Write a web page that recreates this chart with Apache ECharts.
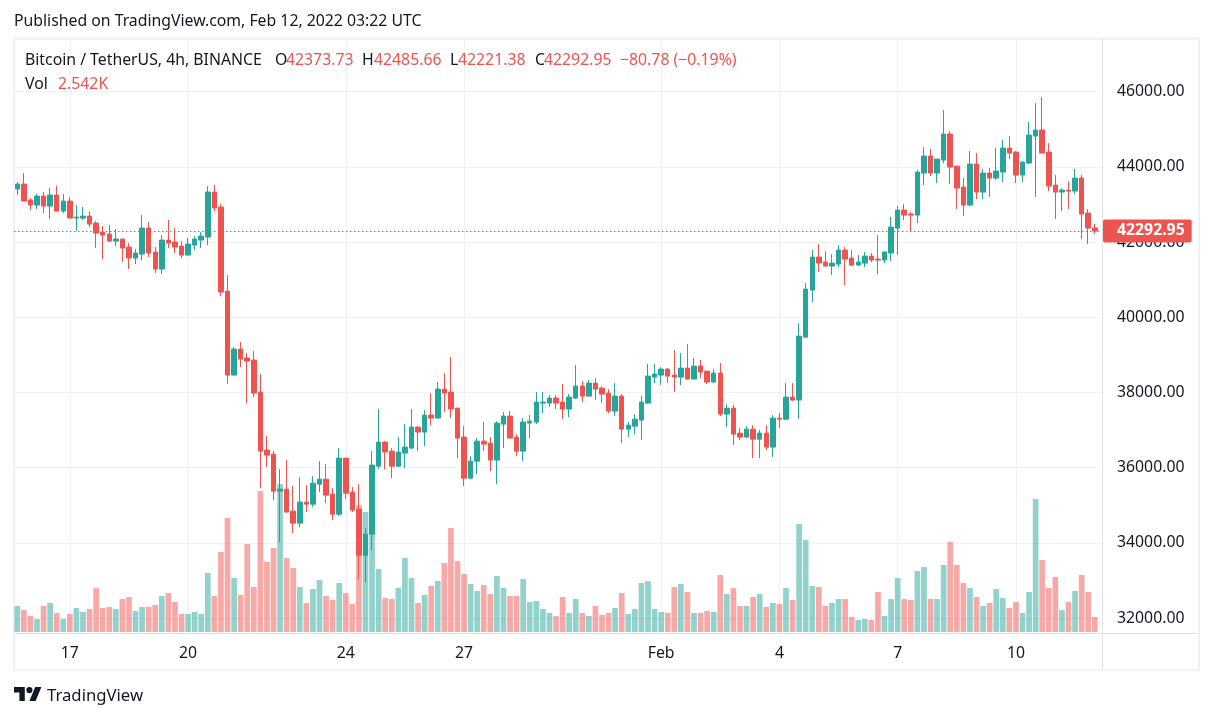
<!DOCTYPE html>
<html><head><meta charset="utf-8">
<style>html,body{margin:0;padding:0;background:#fff}#c{width:1213px;height:718px}</style>
<script src="https://cdn.jsdelivr.net/npm/echarts@6/dist/echarts.min.js"></script>
</head><body><div id="c"></div>
<script>
const opens=[43408,43541,43115,42982,43221,42955,43248,42822,43088,42636,
42636,42689,42503,42264,42211,42024,42078,41865,41572,41678,
42370,41732,41280,42051,41998,41891,41652,41918,42051,42131,
43328,42929,40694,38460,39152,38912,38859,38008,36465,36358,
35374,35427,34842,34523,35082,35028,35560,35693,35294,34762,
36252,35348,34895,33672,34230,36039,36678,36438,36039,36385,
36518,37077,36944,37396,37316,38088,38008,37582,36811,35720,
36172,36704,36651,36199,37156,37369,36811,36438,37183,37210,
37715,37715,37848,37742,37556,37848,38167,37901,38247,38114,
37981,37502,37901,37023,37103,37263,37715,38407,38460,38620,
38460,38407,38646,38354,38699,38566,38274,38513,37423,37582,
36917,36811,37023,36757,36917,36545,37316,37289,37875,37795,
39470,40721,41599,41466,41359,41412,41785,41572,41386,41439,
41625,41545,41519,41705,42370,42849,42743,42716,43833,44285,
43833,44179,44871,44019,43461,42982,44073,43328,43833,43700,
43860,44498,44392,43780,44099,44817,44977,44392,43514,43328,
43381,43354,43700,42769,42373.73];
const highs=[43594,43833,43168,43275,43328,43434,43487,43275,43195,42982,
42929,42822,42556,42423,42450,42344,42078,41971,41811,42716,
42530,41865,42184,42583,42370,42024,42104,42157,42264,43487,
43514,43009,41120,39205,39338,39045,39098,38487,36837,36438,
35959,36199,35507,35747,35534,35773,36172,36092,35454,36518,
36252,35480,35560,34390,36438,37556,36704,36518,36811,37157,
37556,37103,37529,37981,38274,38513,38939,37582,37103,36305,
36784,37210,36811,37236,37476,37502,36890,37316,37396,38008,
38008,37928,37928,38221,37955,38726,38300,38327,38380,38167,
38088,38247,37955,37210,37423,37901,38753,38753,38673,38646,
39125,39045,39285,38912,38859,38566,38620,38779,37689,37662,
37050,37103,37130,37000,37130,37396,37449,38247,38247,39843,
40907,41785,41944,41758,41678,41918,41865,41785,41652,41732,
41705,42184,41758,42663,42955,43008,42796,43913,44525,44472,
44205,45509,44950,44019,43700,44418,44365,43940,43966,44498,
44711,44817,44418,44152,45190,45695,45855,44631,43780,43434,
43620,43940,43780,42875,42485.66];
const lows=[43248,43088,42849,42876,42769,42610,42822,42769,42636,42299,
42583,42397,41838,41545,41998,41891,41466,41280,41412,41519,
41599,41173,41146,41838,41705,41572,41652,41785,41838,41918,
42822,40561,38221,38460,38673,37715,37875,35454,36013,35135,
34018,34816,34257,34417,34816,34949,35348,35055,34603,34709,
35161,34816,33033,32950,33805,35959,35959,35720,36013,35986,
36491,36438,36571,37130,37316,37476,37316,36252,35507,35693,
35827,36438,35906,35560,36518,36784,36305,36172,36784,37156,
37449,37609,37556,37289,37343,37822,37742,37901,37795,37715,
37449,37369,36651,36811,36890,36731,37689,38247,38194,38247,
38008,38194,38354,38354,38380,38221,38247,37369,37077,36598,
36731,36784,36252,36252,36465,36279,37050,37263,37768,37289,
39470,40402,41200,41359,41120,41333,40854,41359,41359,41333,
41466,41146,41439,41492,41652,42583,42264,42503,43514,43753,
43567,44099,43540,42875,42689,42955,43141,43141,43195,43647,
43594,44205,43567,43594,44073,43195,44365,43354,42609,42822,
42875,43274,42077,41944,42221.38];
const closes=[43541,43088,42982,43221,42955,43248,42822,43088,42636,42663,
42689,42477,42237,42184,42024,42078,41838,41572,41705,42370,
41705,41280,42051,41971,41865,41652,41945,42078,42157,43328,
42902,40668,38460,39152,38886,38832,37981,36438,36332,35374,
35427,34816,34523,35082,35028,35587,35693,35268,34762,36252,
35321,34869,33672,34230,36066,36678,36412,36039,36412,36545,
37077,36944,37396,37316,38088,37981,37556,36784,35720,36172,
36704,36625,36199,37183,37369,36784,36438,37210,37236,37742,
37742,37848,37715,37556,37875,38167,37901,38247,38088,37955,
37502,37901,37023,37130,37289,37742,38433,38487,38620,38433,
38407,38646,38354,38699,38540,38274,38513,37423,37582,36891,
36811,37023,36757,36917,36545,37316,37289,37875,37795,39497,
40747,41599,41439,41359,41439,41785,41545,41386,41466,41625,
41519,41519,41732,42397,42849,42716,42716,43860,44285,43833,
44205,44871,43993,43434,42982,44073,43328,43833,43700,43886,
44498,44365,43780,44126,44844,44977,44365,43487,43328,43381,
43354,43700,42742,42370,42292.95];
const volumesK=[4.41,3.73,2.71,2.20,4.41,4.92,3.22,2.20,3.05,4.07,
3.39,3.90,7.46,4.07,4.24,3.90,5.59,5.93,3.56,4.24,
4.24,4.58,6.10,6.61,5.09,3.05,3.05,3.39,3.05,10.00,
6.10,13.56,19.32,9.15,6.27,14.92,7.63,23.90,11.87,14.24,
25.09,12.54,10.85,7.63,4.92,7.29,8.81,6.10,5.42,8.31,
6.61,4.75,21.53,20.34,19.83,10.68,5.76,5.59,7.46,12.54,
9.15,4.92,6.27,7.80,8.64,11.70,17.63,12.03,9.83,8.14,
6.95,7.97,6.44,9.49,7.46,6.10,6.10,8.98,5.09,5.25,
3.90,3.22,2.71,5.93,3.22,5.59,3.22,2.71,4.41,2.88,
3.22,4.07,6.61,3.05,3.90,8.31,8.64,3.90,3.39,3.22,
7.63,8.14,6.78,3.22,3.22,3.56,3.39,9.66,6.44,7.46,
4.41,4.41,5.93,6.44,4.24,4.92,4.75,7.46,5.42,18.31,
15.59,7.80,7.63,4.41,4.92,5.59,5.59,2.54,2.03,2.20,
2.03,6.78,2.71,5.59,9.15,5.59,5.42,10.34,11.02,5.59,
5.59,11.36,15.26,11.36,8.31,7.46,5.93,4.41,4.92,7.29,
5.76,4.07,5.09,3.22,6.78,22.54,12.20,7.46,9.32,3.73,
5.09,6.95,9.66,6.78,2.542];
const timeTickIndexes=[8,26,50,68,98,116,134,152];
const timeTickLabels=['17','20','24','27','Feb','4','7','10'];
const priceTicks=[32000,34000,36000,38000,40000,42000,44000,46000];
const lastPrice=42292.95;

const UP='#26a69a',DOWN='#ef5350',TXT='#131722',GRID='#f0f1f6',SEP='#e1e3e8';
const FONT='"Noto Sans"';
const candleData=opens.map((o,i)=>[i,o,closes[i],lows[i],highs[i]]);
const volData=volumesK.map((v,i)=>({value:[i,v],itemStyle:{color:closes[i]>=opens[i]?'rgba(38,166,154,0.5)':'rgba(239,83,80,0.5)'}}));
const txt=(x,y,text,fill,extra)=>({type:'text',x,y:y-7.5,silent:true,z:10,style:Object.assign({text,fill,font:'15.8px '+FONT},extra||{})});
const line=(x1,y1,x2,y2,stroke,w)=>({type:'line',silent:true,z:1,shape:{x1,y1,x2,y2},style:{stroke,lineWidth:w||1}});

const chart=echarts.init(document.getElementById('c'),null,{renderer:'canvas'});
chart.setOption({
  animation:false,backgroundColor:'#fff',
  grid:{left:14,top:39,width:1088,height:594,show:false},
  xAxis:{type:'value',min:-0.5,max:165.1,
    axisLine:{show:false},
    axisTick:{show:false,customValues:timeTickIndexes},
    axisLabel:{customValues:timeTickIndexes,color:TXT,fontFamily:FONT,fontSize:15.8,margin:12,
      formatter:v=>timeTickLabels[timeTickIndexes.indexOf(v)]},
    splitLine:{show:true,lineStyle:{color:GRID,width:1}}},
  yAxis:[
    {type:'value',position:'right',min:31601,max:47399,scale:true,
     axisLine:{show:false},
     axisTick:{show:false,customValues:priceTicks},
     axisLabel:{customValues:priceTicks,color:TXT,fontFamily:FONT,fontSize:15.8,margin:15,padding:[3,0,0,0],
       formatter:v=>v.toFixed(2)},
     splitLine:{show:true,lineStyle:{color:GRID,width:1}}},
    {type:'value',min:-0.17,max:100.53,show:false,splitLine:{show:false}}
  ],
  series:[
    {type:'bar',name:'Vol',xAxisIndex:0,yAxisIndex:1,barWidth:5.7,z:2,data:volData,silent:true},
    {type:'candlestick',name:'BTCUSDT',xAxisIndex:0,yAxisIndex:0,z:3,silent:true,
     encode:{x:0,y:[1,2,3,4]},barWidth:5,data:candleData,
     itemStyle:{color:UP,color0:DOWN,borderColor:UP,borderColor0:DOWN,borderWidth:1},
     markLine:{silent:true,symbol:'none',z:4,precision:2,
       label:{show:true,position:'end',distance:1,formatter:()=>lastPrice.toFixed(2),
         color:'#fff',fontFamily:FONT,fontSize:15.8,fontWeight:'bold',backgroundColor:DOWN,
         borderRadius:2,padding:[4,7,4,14],lineHeight:15},
       data:[{yAxis:lastPrice,lineStyle:{color:DOWN,type:[1.5,2.5],width:1,opacity:1}}]}}
  ],
  graphic:[
    line(13,38.7,1200,38.7,GRID,2),
    line(14,38,14,670.5,GRID,2),
    line(1199,38,1199,670.5,GRID,2),
    line(13,670,1200,670,GRID,1.5),
    line(14,633.5,1199,633.5,SEP),
    line(1102.5,39,1102.5,670,SEP),
    txt(14,21,'Published on TradingView.com, Feb 12, 2022 03:22 UTC',TXT),
    txt(25,60,'Bitcoin / TetherUS, 4h, BINANCE',TXT),
    txt(275,60,'O',TXT),txt(286,60,'42373.73',DOWN),
    txt(362,60,'H',TXT),txt(374,60,'42485.66',DOWN),
    txt(450,60,'L',TXT),txt(458,60,'42221.38',DOWN),
    txt(535,60,'C',TXT),txt(544,60,'42292.95',DOWN),
    txt(620,60,'\u221280.78 (\u22120.19%)',DOWN),
    txt(25,84,'Vol',TXT),txt(58,84,'2.542K',DOWN),
    {type:'polygon',silent:true,z:10,shape:{points:[[24.8,700.9],[19.4,700.9],[19.4,692.4],[14,692.4],[14,687],[24.8,687]]},style:{fill:TXT}},
    {type:'polygon',silent:true,z:10,shape:{points:[[35.6,700.9],[29.4,700.9],[35.2,687],[41.4,687]]},style:{fill:TXT}},
    {type:'circle',silent:true,z:10,shape:{cx:29.4,cy:690.1,r:3.1},style:{fill:TXT}},
    txt(47,695,'TradingView',TXT,{font:'16.7px '+FONT})
  ]
});
</script></body></html>
